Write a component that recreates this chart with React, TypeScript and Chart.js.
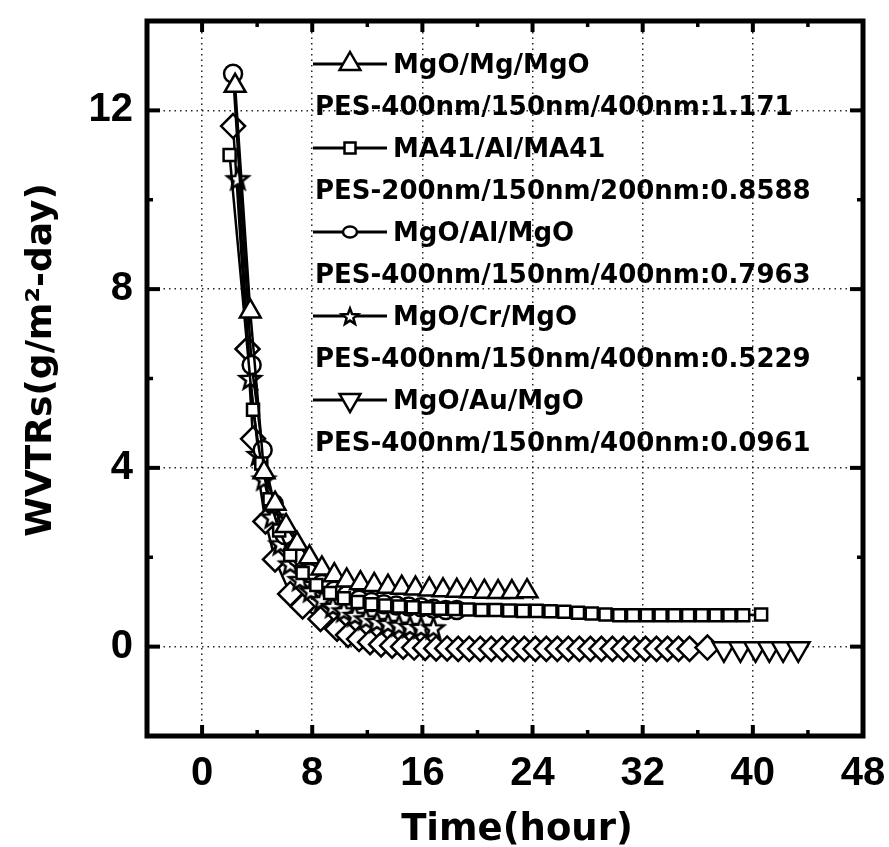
import React, { useEffect, useRef } from 'react';
import { Chart, registerables } from 'chart.js';

Chart.register(...registerables);

// ---------- axes ----------
const xMin = -4;
const xMax = 48;
const yMin = -2;
const yMax = 14;
const xTicks = [0, 8, 16, 24, 32, 40, 48];
const xMinorTicks = [4, 12, 20, 28, 36, 44];
const yTicks = [0, 4, 8, 12];
const yMinorTicks = [2, 6, 10];
const xTitle = 'Time(hour)';
const yTitle = 'WVTRs(g/m\u00B2-day)';

// ---------- series ----------
// MgO/Mg/MgO (up triangles)
const mgX = [2.4, 3.5, 4.5, 5.3, 6.1, 6.9, 7.8, 8.7, 9.6, 10.5, 11.5, 12.5, 13.5, 14.5, 15.5, 16.5, 17.5, 18.5, 19.5, 20.5, 21.5, 22.5, 23.6];
const mgY = [12.55, 7.5, 3.9, 3.2, 2.7, 2.3, 2.0, 1.75, 1.6, 1.48, 1.42, 1.38, 1.34, 1.32, 1.3, 1.28, 1.26, 1.25, 1.24, 1.23, 1.22, 1.22, 1.24];

// MA41/Al/MA41 (squares)
const maX = [2.0, 3.7, 4.3, 4.9, 5.6, 6.4, 7.3, 8.3, 9.3, 10.3, 11.3, 12.3, 13.3, 14.3, 15.3, 16.3, 17.3, 18.3, 19.3, 20.3, 21.3, 22.3, 23.3, 24.3, 25.3, 26.3, 27.3, 28.3, 29.3, 30.3, 31.3, 32.3, 33.3, 34.3, 35.3, 36.3, 37.3, 38.3, 39.3, 40.6];
const maY = [11.0, 5.3, 4.1, 3.3, 2.6, 2.05, 1.65, 1.38, 1.2, 1.08, 1.0, 0.95, 0.92, 0.9, 0.88, 0.86, 0.85, 0.84, 0.83, 0.82, 0.82, 0.81, 0.8, 0.8, 0.79, 0.78, 0.76, 0.74, 0.72, 0.7, 0.7, 0.7, 0.7, 0.7, 0.7, 0.7, 0.7, 0.7, 0.7, 0.72];

// MgO/Al/MgO (circles)
const alX = [2.25, 3.6, 4.4, 5.2, 6.0, 6.9, 7.8, 8.7, 9.6, 10.5, 11.4, 12.3, 13.2, 14.1, 15.0, 15.9, 16.8, 17.7, 18.5];
const alY = [12.82, 6.3, 4.4, 3.2, 2.5, 2.0, 1.65, 1.4, 1.25, 1.15, 1.05, 1.0, 0.95, 0.92, 0.9, 0.88, 0.85, 0.82, 0.82];

// MgO/Cr/MgO (stars)
const crX = [2.6, 3.5, 4.1, 4.5, 5.1, 5.7, 6.4, 7.1, 7.9, 8.7, 9.5, 10.3, 11.1, 11.9, 12.7, 13.5, 14.3, 15.1, 15.9, 16.8];
const crY = [10.47, 6.0, 4.3, 3.75, 2.9, 2.3, 1.85, 1.5, 1.25, 1.05, 0.9, 0.8, 0.7, 0.62, 0.56, 0.52, 0.48, 0.45, 0.43, 0.42];

// MgO/Au/MgO (diamonds, then down triangles)
const auDiamondX = [2.25, 3.3, 3.7, 4.6, 5.3, 6.4, 7.3, 8.6, 9.8, 10.6, 11.4, 12.2, 13.0, 13.8, 14.6, 15.4, 16.2, 17.0, 17.8, 18.6, 19.4, 20.2, 21.0, 21.8, 22.6, 23.4, 24.2, 25.0, 25.8, 26.6, 27.4, 28.2, 29.0, 29.8, 30.6, 31.4, 32.2, 33.0, 33.8, 34.6, 35.4, 36.7];
const auDiamondY = [11.65, 6.66, 4.65, 2.8, 1.95, 1.18, 0.9, 0.62, 0.4, 0.26, 0.17, 0.1, 0.05, 0.02, 0.0, -0.02, -0.03, -0.04, -0.04, -0.05, -0.05, -0.05, -0.05, -0.05, -0.05, -0.05, -0.05, -0.05, -0.05, -0.05, -0.05, -0.05, -0.05, -0.05, -0.05, -0.05, -0.05, -0.05, -0.05, -0.05, -0.05, -0.02];
const auTriangleX = [37.9, 39.1, 40.2, 41.2, 42.2, 43.3];
const auTriangleY = [-0.05, -0.05, -0.05, -0.05, -0.05, -0.05];

const seriesNames = ['MgO/Mg/MgO', 'MA41/Al/MA41', 'MgO/Al/MgO', 'MgO/Cr/MgO', 'MgO/Au/MgO'];
const seriesNotes = [
  'PES-400nm/150nm/400nm:1.171',
  'PES-200nm/150nm/200nm:0.8588',
  'PES-400nm/150nm/400nm:0.7963',
  'PES-400nm/150nm/400nm:0.5229',
  'PES-400nm/150nm/400nm:0.0961',
];
const legendMarkers = ['triangle', 'square', 'circle', 'star', 'downTriangle'];

const toPoints = (xs: number[], ys: number[]) => xs.map((x, i) => ({ x, y: ys[i] }));

function drawStarPath(g: CanvasRenderingContext2D, cx: number, cy: number, outer: number, inner: number) {
  g.beginPath();
  for (let i = 0; i < 10; i++) {
    const r = i % 2 === 0 ? outer : inner;
    const a = -Math.PI / 2 + (i * Math.PI) / 5;
    const px = cx + Math.cos(a) * r;
    const py = cy + Math.sin(a) * r;
    if (i === 0) g.moveTo(px, py);
    else g.lineTo(px, py);
  }
  g.closePath();
}

function makeStar(outer: number, inner: number, lw: number) {
  const size = Math.ceil(outer * 2 + lw * 2 + 2);
  const c = document.createElement('canvas');
  c.width = size;
  c.height = size;
  const g = c.getContext('2d')!;
  drawStarPath(g, size / 2, size / 2 + 1, outer, inner);
  g.fillStyle = '#fff';
  g.fill();
  g.lineWidth = lw;
  g.strokeStyle = '#000';
  g.stroke();
  return c;
}

function drawLegendMarker(g: CanvasRenderingContext2D, kind: string, cx: number, cy: number) {
  g.save();
  g.fillStyle = '#fff';
  g.strokeStyle = '#000';
  g.lineWidth = 2.5;
  g.beginPath();
  if (kind === 'triangle' || kind === 'downTriangle') {
    const r = 12;
    const s = kind === 'triangle' ? 1 : -1;
    g.moveTo(cx, cy - s * r);
    g.lineTo(cx + r * 0.866, cy + s * r * 0.5);
    g.lineTo(cx - r * 0.866, cy + s * r * 0.5);
    g.closePath();
  } else if (kind === 'square') {
    g.rect(cx - 5.5, cy - 5.5, 11, 11);
  } else if (kind === 'circle') {
    g.ellipse(cx, cy, 7, 5.5, 0, 0, Math.PI * 2);
  } else if (kind === 'star') {
    drawStarPath(g, cx, cy + 1, 8.5, 3.6);
  }
  g.fill();
  g.stroke();
  g.restore();
}

const decorPlugin = {
  id: 'decor',
  afterDatasetsDraw(chart: any) {
    const { ctx, chartArea: a, scales } = chart;
    const xs = scales.x;
    const ys = scales.y;
    ctx.save();
    ctx.strokeStyle = '#000';
    ctx.lineCap = 'butt';
    const seg = (x1: number, y1: number, x2: number, y2: number) => {
      ctx.beginPath();
      ctx.moveTo(x1, y1);
      ctx.lineTo(x2, y2);
      ctx.stroke();
    };
    ctx.lineWidth = 4;
    xTicks.forEach((v) => {
      const p = xs.getPixelForValue(v);
      seg(p, a.bottom, p, a.bottom - 11);
      seg(p, a.top, p, a.top + 11);
    });
    yTicks.forEach((v) => {
      const p = ys.getPixelForValue(v);
      seg(a.left, p, a.left + 13, p);
      seg(a.right, p, a.right - 13, p);
    });
    ctx.lineWidth = 3.5;
    xMinorTicks.forEach((v) => {
      const p = xs.getPixelForValue(v);
      seg(p, a.bottom, p, a.bottom - 6);
      seg(p, a.top, p, a.top + 6);
    });
    yMinorTicks.forEach((v) => {
      const p = ys.getPixelForValue(v);
      seg(a.left, p, a.left + 6, p);
      seg(a.right, p, a.right - 6, p);
    });
    ctx.lineWidth = 5;
    ctx.strokeRect(a.left, a.top, a.right - a.left, a.bottom - a.top);
    ctx.restore();
  },
  afterDraw(chart: any) {
    const { ctx } = chart;
    ctx.save();
    ctx.fillStyle = '#000';
    // axis titles
    ctx.font = "bold 37px 'DejaVu Sans'";
    ctx.textAlign = 'center';
    ctx.textBaseline = 'alphabetic';
    ctx.fillText(xTitle, 517, 840);
    ctx.save();
    ctx.translate(51, 360);
    ctx.rotate(-Math.PI / 2);
    ctx.font = "bold 36px 'DejaVu Sans'";
    ctx.fillText(yTitle, 0, 0);
    ctx.restore();

    // legend
    const rowStart = 64;
    const rowGap = 42;
    ctx.textAlign = 'left';
    ctx.font = "bold 26px 'DejaVu Sans'";
    seriesNames.forEach((name, i) => {
      const yName = rowStart + rowGap * 2 * i;
      const yNote = yName + rowGap;
      ctx.strokeStyle = '#000';
      ctx.lineWidth = 3;
      ctx.beginPath();
      ctx.moveTo(313, yName);
      ctx.lineTo(387, yName);
      ctx.stroke();
      drawLegendMarker(ctx, legendMarkers[i], 350, yName);
      ctx.fillStyle = '#000';
      ctx.fillText(name, 393, yName + 9);
      ctx.fillText(seriesNotes[i], 315, yNote + 9);
    });
    ctx.restore();
  },
};

export default function App() {
  const canvasRef = useRef<HTMLCanvasElement | null>(null);

  useEffect(() => {
    const canvas = canvasRef.current;
    if (!canvas) return;
    const star = makeStar(11, 4.6, 2.5);

    const auPoints = [...toPoints(auDiamondX, auDiamondY), ...toPoints(auTriangleX, auTriangleY)];
    const auStyles = [...auDiamondX.map(() => 'rectRot'), ...auTriangleX.map(() => 'triangle')];
    const auRotation = [...auDiamondX.map(() => 0), ...auTriangleX.map(() => 180)];
    const auRadius = [...auDiamondX.map(() => 12), ...auTriangleX.map(() => 13)];

    const common = {
      showLine: true,
      borderColor: '#000',
      borderWidth: 2.5,
      pointBorderColor: '#000',
      pointBackgroundColor: '#fff',
      pointBorderWidth: 2.5,
      tension: 0,
    };

    const tickFont = { family: "'Liberation Sans', Arial, sans-serif", size: 40, weight: 'bold' as const };

    const chart = new Chart(canvas, {
      type: 'scatter',
      data: {
        datasets: [
          { ...common, label: seriesNames[0], data: toPoints(mgX, mgY), pointStyle: 'triangle', pointRadius: 12 },
          { ...common, label: seriesNames[1], data: toPoints(maX, maY), pointStyle: 'rect', pointRadius: 8.5 },
          { ...common, label: seriesNames[2], data: toPoints(alX, alY), pointStyle: 'circle', pointRadius: 9 },
          { ...common, label: seriesNames[3], data: toPoints(crX, crY), pointStyle: star as any, pointRadius: 11 },
          {
            ...common,
            label: seriesNames[4],
            data: auPoints,
            pointStyle: auStyles as any,
            pointRotation: auRotation,
            pointRadius: auRadius,
          },
        ],
      },
      options: {
        responsive: false,
        devicePixelRatio: 1,
        animation: false,
        events: [],
        layout: { padding: { left: 0, top: 21, right: 26, bottom: 0 } },
        plugins: { legend: { display: false }, tooltip: { enabled: false } },
        scales: {
          x: {
            type: 'linear',
            position: 'bottom',
            min: xMin,
            max: xMax,
            afterBuildTicks: (s: any) => {
              s.ticks = xTicks.map((v) => ({ value: v }));
            },
            afterFit: (s: any) => {
              s.height = 111;
              s.paddingLeft = 0;
              s.paddingRight = 0;
            },
            ticks: {
              font: tickFont,
              color: '#000',
              padding: 14,
              maxRotation: 0,
              autoSkip: false,
              callback: (v: any) => String(v),
            },
            grid: { color: 'rgba(0,0,0,0.85)', lineWidth: 1.5, drawTicks: false },
            border: { display: false, dash: [1.5, 4] },
          },
          y: {
            type: 'linear',
            position: 'left',
            min: yMin,
            max: yMax,
            afterBuildTicks: (s: any) => {
              s.ticks = yTicks.map((v) => ({ value: v }));
            },
            afterFit: (s: any) => {
              s.width = 147;
              s.paddingTop = 0;
              s.paddingBottom = 0;
            },
            ticks: {
              font: tickFont,
              color: '#000',
              padding: 14,
              autoSkip: false,
              callback: (v: any) => String(v),
            },
            grid: { color: 'rgba(0,0,0,0.85)', lineWidth: 1.5, drawTicks: false },
            border: { display: false, dash: [1.5, 4] },
          },
        },
      },
      plugins: [decorPlugin],
    } as any);

    return () => chart.destroy();
  }, []);

  return (
    <div style={{ position: 'fixed', left: 0, top: 0, width: 889, height: 847, background: '#fff' }}>
      <canvas ref={canvasRef} width={889} height={847} style={{ display: 'block', width: 889, height: 847 }} />
    </div>
  );
}
